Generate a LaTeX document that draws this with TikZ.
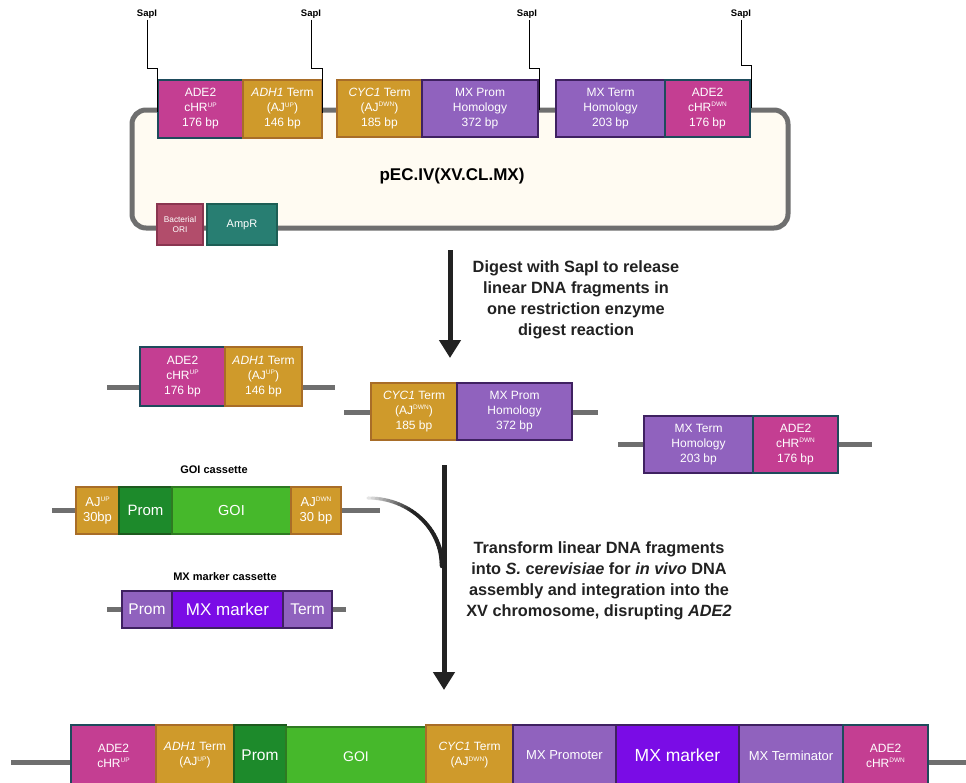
\documentclass[tikz,border=0pt]{standalone}
\usepackage{fontspec}
\setmainfont{Liberation Sans}
\usetikzlibrary{arrows.meta}
\definecolor{magc}{HTML}{C43E92}
\definecolor{magb}{HTML}{1E4B5C}
\definecolor{goldc}{HTML}{CF9A2B}
\definecolor{goldb}{HTML}{A86D28}
\definecolor{purc}{HTML}{9062BE}
\definecolor{purb}{HTML}{3F2161}
\definecolor{vioc}{HTML}{7A0CE6}
\definecolor{dgc}{HTML}{1D8A2B}
\definecolor{dgb}{HTML}{1E5A1E}
\definecolor{lgc}{HTML}{46B82B}
\definecolor{lgb}{HTML}{2F7A22}
\definecolor{oric}{HTML}{B24D6B}
\definecolor{orib}{HTML}{8A3550}
\definecolor{ampc}{HTML}{287E72}
\definecolor{ampb}{HTML}{1D5E55}
\definecolor{linec}{HTML}{6F6F6F}
\definecolor{creamc}{HTML}{FFFBF2}
\definecolor{arrc}{HTML}{222222}
\newcommand\supx[1]{\raisebox{0.75ex}{\fontsize{6.5}{7}\selectfont #1}}
\newcommand\segbox[7]{%
  \pgfmathsetmacro\segw{#3-#2}%
  \pgfmathsetmacro\segh{#5-#4}%
  \node[segst,#6,minimum width=\segw pt,minimum height=\segh pt] (#1) at ({(#2+#3)/2},{(#4+#5)/2}) {#7};}
\tikzset{
  segst/.style={draw, line width=1.1pt, inner sep=0pt, align=center, text=white,
    font=\fontsize{12}{15}\selectfont},
  mag/.style={fill=magc, draw=magb},
  gold/.style={fill=goldc, draw=goldb},
  purp/.style={fill=purc, draw=purb},
  viol/.style={fill=vioc, draw=purb},
  dgreen/.style={fill=dgc, draw=dgb},
  lgreen/.style={fill=lgc, draw=lgb},
  oribox/.style={fill=oric, draw=orib, font=\fontsize{8.3}{10}\selectfont},
  ampbox/.style={fill=ampc, draw=ampb, font=\fontsize{11}{13}\selectfont},
  dnaline/.style={draw=linec, line width=5pt},
  plasmid/.style={draw=linec, line width=5pt, fill=creamc, rounded corners=14pt},
  saplab/.style={font=\bfseries\fontsize{9.5}{11}\selectfont, inner sep=1pt},
  sapline/.style={draw=black, line width=1pt},
  bigarrow/.style={draw=arrc, line width=5pt, -{Triangle[width=21pt,length=18pt]}},
  steptext/.style={font=\bfseries\fontsize{16.3}{21}\selectfont, align=center, text=arrc},
  cassette/.style={font=\bfseries\fontsize{11}{13}\selectfont},
}
\begin{document}
\begin{tikzpicture}[x=1pt,y=-1pt]
\clip (0,0) rectangle (966,782);
\fill[white] (0,0) rectangle (966,782);

% ---------- plasmid ----------
\node[plasmid, minimum width=656pt, minimum height=118pt, inner sep=0pt] (plas) at (460,169) {};
\node[font=\bfseries\fontsize{17}{20}\selectfont] (ptitle) at (452,176) {pEC.IV(XV.CL.MX)};

\segbox{t1}{158}{243}{80}{138}{mag}{ADE2\\cHR\supx{UP}\\176 bp}
\segbox{t2}{243}{322}{80}{138}{gold}{\textit{ADH1} Term\\(AJ\supx{UP})\\146 bp}
\segbox{t3}{337}{422}{80}{137}{gold}{\textit{CYC1} Term\\(AJ\supx{DWN})\\185 bp}
\segbox{t4}{422}{538}{80}{137}{purp}{MX Prom\\Homology\\372 bp}
\segbox{t5}{556}{665}{80}{137}{purp}{MX Term\\Homology\\203 bp}
\segbox{t6}{665}{750}{80}{137}{mag}{ADE2\\cHR\supx{DWN}\\176 bp}

\segbox{ori}{157}{203}{204}{245}{oribox}{Bacterial\\ORI}
\segbox{amp}{207}{277}{204}{245}{ampbox}{AmpR}

% SapI sites
\node[saplab] (s1) at (147,14) {SapI};
\node[saplab] (s2) at (311,14) {SapI};
\node[saplab] (s3) at (527,14) {SapI};
\node[saplab] (s4) at (741,14) {SapI};
\coordinate (j1) at (147,68); \coordinate (k1) at (157.5,112);
\coordinate (j2) at (311,68); \coordinate (k2) at (322,113);
\coordinate (j3) at (529,68); \coordinate (k3) at (539.5,110);
\coordinate (j4) at (741,65); \coordinate (k4) at (751,108);
\draw[sapline] (s1.south) -- (j1) -| (k1);
\draw[sapline] (s2.south) -- (j2) -| (k2);
\draw[sapline] (s3.south -| j3) -- (j3) -| (k3);
\draw[sapline] (s4.south) -- (j4) -| (k4);

% ---------- arrow 1 ----------
\coordinate (a1s) at (450,250);
\coordinate (a1e) at (450,358);
\draw[bigarrow] (a1s) -- (a1e);
\node[steptext] (txt1) at (576,300) {Digest with SapI to release\\linear DNA fragments in\\one restriction enzyme\\digest reaction};

% ---------- fragments ----------
\coordinate (f1a) at (107,387); \coordinate (f1b) at (335,387);
\coordinate (f2a) at (344,412); \coordinate (f2b) at (598,412);
\coordinate (f3a) at (618,444); \coordinate (f3b) at (872,444);
\draw[dnaline] (f1a) -- (f1b);
\draw[dnaline] (f2a) -- (f2b);
\draw[dnaline] (f3a) -- (f3b);
\segbox{m1}{140}{225}{347}{406}{mag}{ADE2\\cHR\supx{UP}\\176 bp}
\segbox{m2}{225}{302}{347}{406}{gold}{\textit{ADH1} Term\\(AJ\supx{UP})\\146 bp}
\segbox{m3}{371}{457}{383}{440}{gold}{\textit{CYC1} Term\\(AJ\supx{DWN})\\185 bp}
\segbox{m4}{457}{572}{383}{440}{purp}{MX Prom\\Homology\\372 bp}
\segbox{m5}{644}{753}{416}{473}{purp}{MX Term\\Homology\\203 bp}
\segbox{m6}{753}{838}{416}{473}{mag}{ADE2\\cHR\supx{DWN}\\176 bp}

% ---------- GOI cassette ----------
\node[cassette] (goilab) at (214,470) {GOI cassette};
\coordinate (g0a) at (52,510); \coordinate (g0b) at (380,510);
\draw[dnaline] (g0a) -- (g0b);
\segbox{g1}{76}{119}{487}{534}{gold}{\fontsize{13}{15}\selectfont AJ\supx{UP}\\\fontsize{13}{15}\selectfont 30bp}
\segbox{g2}{119}{172}{487}{534}{dgreen}{\fontsize{15}{17}\selectfont Prom}
\segbox{g3}{172}{291}{487}{534}{lgreen}{\fontsize{14.5}{17}\selectfont GOI}
\segbox{g4}{291}{341}{487}{534}{gold}{\fontsize{13}{15}\selectfont AJ\supx{DWN}\\\fontsize{13}{15}\selectfont 30 bp}

% ---------- MX marker cassette ----------
\node[cassette] (mxlab) at (225,577) {MX marker cassette};
\coordinate (x0a) at (107,609); \coordinate (x0b) at (346,609);
\draw[dnaline] (x0a) -- (x0b);
\segbox{x1}{122}{172}{591}{628}{purp}{\fontsize{15.5}{17}\selectfont Prom}
\segbox{x2}{172}{283}{591}{628}{viol}{\fontsize{17}{19}\selectfont MX marker}
\segbox{x3}{283}{332}{591}{628}{purp}{\fontsize{15.5}{17}\selectfont Term}

% ---------- arrow 2 with fading curve ----------
\coordinate (a2s) at (444,465);
\coordinate (a2e) at (444,690);
\foreach \i in {0,...,29}{
  \pgfmathsetmacro\ta{\i/30}
  \pgfmathsetmacro\tb{(\i+1)/30}
  \pgfmathsetmacro\xa{(1-\ta)^3*368+3*(1-\ta)^2*\ta*409+3*(1-\ta)*\ta^2*442+\ta^3*442}
  \pgfmathsetmacro\ya{(1-\ta)^3*498+3*(1-\ta)^2*\ta*498+3*(1-\ta)*\ta^2*528+\ta^3*566}
  \pgfmathsetmacro\xb{(1-\tb)^3*368+3*(1-\tb)^2*\tb*409+3*(1-\tb)*\tb^2*442+\tb^3*442}
  \pgfmathsetmacro\yb{(1-\tb)^3*498+3*(1-\tb)^2*\tb*498+3*(1-\tb)*\tb^2*528+\tb^3*566}
  \pgfmathsetmacro\shd{min(100,5+\tb*220)}
  \pgfmathsetmacro\lw{3+\tb*1.5}
  \draw[line width=\lw pt, line cap=round, arrc!\shd!white] (\xa,\ya) -- (\xb,\yb);
}
\draw[bigarrow] (a2s) -- (a2e);
\node[steptext] (txt2) at (599,581) {Transform linear DNA fragments\\into \textit{S.} ce\textit{revisiae} for \textit{in vivo} DNA\\assembly and integration into the\\XV chromosome, disrupting \textit{ADE2}};

% ---------- integrated locus ----------
\coordinate (l0a) at (11,762); \coordinate (l0b) at (966,762);
\draw[dnaline] (l0a) -- (l0b);
\segbox{b1}{71}{156}{725}{786}{mag}{ADE2\\cHR\supx{UP}}
\segbox{b2}{156}{234}{725}{786}{gold}{\textit{ADH1} Term\\(AJ\supx{UP})}
\segbox{b3}{234}{286}{725}{786}{dgreen}{\fontsize{15.5}{17}\selectfont Prom}
\segbox{b4}{286}{426}{727}{786}{lgreen}{\fontsize{14}{17}\selectfont GOI}
\segbox{b5}{426}{513}{725}{786}{gold}{\textit{CYC1} Term\\(AJ\supx{DWN})}
\segbox{b6}{513}{616}{725}{786}{purp}{\fontsize{13}{15}\selectfont MX Promoter}
\segbox{b7}{616}{739}{725}{786}{viol}{\fontsize{17.5}{19}\selectfont MX marker}
\segbox{b8}{739}{843}{725}{786}{purp}{\fontsize{13}{15}\selectfont MX Terminator}
\segbox{b9}{843}{928}{725}{786}{mag}{ADE2\\cHR\supx{DWN}}
\end{tikzpicture}
\end{document}
